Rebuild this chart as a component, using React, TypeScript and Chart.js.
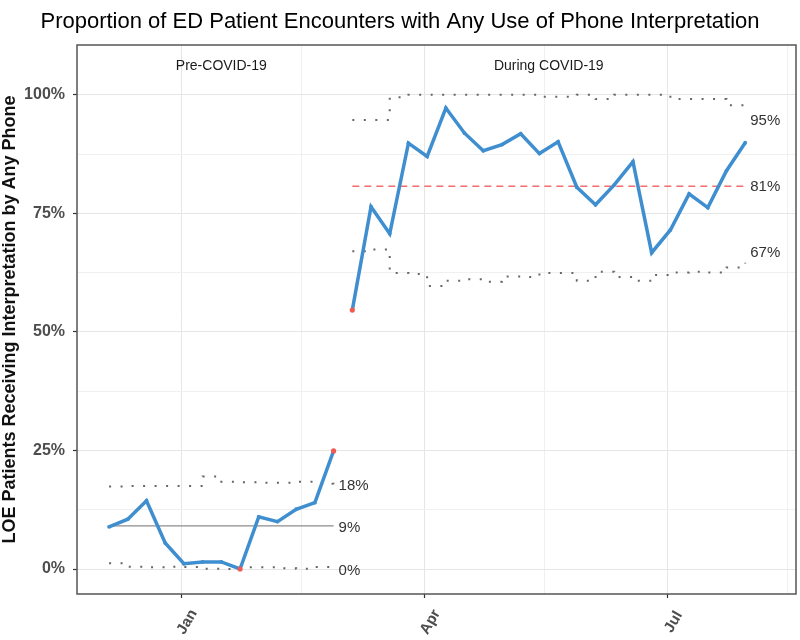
import React, { useEffect, useRef } from 'react';
import { Chart, registerables } from 'chart.js';

Chart.register(...registerables);

const chartTitle = 'Proportion of ED Patient Encounters with Any Use of Phone Interpretation';
const yAxisTitle = 'LOE Patients Receiving Interpretation by Any Phone';
const phaseNames = ['Pre-COVID-19', 'During COVID-19'];

// Pre-COVID phase (weekly)
const preDates = [
  '2019-12-05', '2019-12-12', '2019-12-19', '2019-12-26', '2020-01-02', '2020-01-09', '2020-01-16',
  '2020-01-23', '2020-01-30', '2020-02-06', '2020-02-13', '2020-02-20', '2020-02-27',
];
const preValues = [8.9, 10.5, 14.4, 5.5, 1.1, 1.5, 1.5, 0, 11.0, 10.0, 12.6, 14.0, 24.9];
const preUCL = [17.4, 17.5, 17.5, 17.5, 17.5, 19.5, 18.4, 18.3, 18.2, 18.2, 18.4, 18.0, 17.9];
const preLCL = [1.2, 0.5, 0.35, 0.5, 0.4, 0.05, 0, 0.35, 0.35, 0.15, 0.05, 0.4, 0.6];
const preCenter = 9.1;
const preSignals = [7, 12];
const preLimitLabels = [18, 9, 0];

// During COVID phase (weekly)
const duringDates = [
  '2020-03-05', '2020-03-12', '2020-03-19', '2020-03-26', '2020-04-02', '2020-04-09', '2020-04-16',
  '2020-04-23', '2020-04-30', '2020-05-07', '2020-05-14', '2020-05-21', '2020-05-28', '2020-06-04',
  '2020-06-11', '2020-06-18', '2020-06-25', '2020-07-02', '2020-07-09', '2020-07-16', '2020-07-23',
  '2020-07-30',
];
const duringValues = [
  54.6, 76.4, 70.7, 89.8, 87.0, 97.2, 91.9, 88.2, 89.5, 91.8, 87.6, 90.1, 80.5, 76.8, 81.0, 85.9,
  66.7, 71.5, 79.1, 76.2, 84.0, 89.9,
];
const duringUCL = [
  94.7, 94.7, 99.5, 100, 100, 100, 100, 100, 100, 100, 99.6, 99.6, 100, 99.1, 100, 100, 100, 99.1,
  99.1, 99.1, 97.8, 97.2,
];
const duringLCL = [
  67.0, 67.4, 62.4, 62.2, 59.7, 60.8, 61.1, 60.6, 61.7, 61.6, 62.4, 62.4, 60.8, 62.7, 61.6, 60.8,
  62.0, 62.5, 62.7, 62.5, 63.6, 64.6,
];
const duringCenter = 80.7;
const duringSignals = [0];
const duringLimitLabels = [95, 81, 67];

const yTickValues = [0, 25, 50, 75, 100];
const yTickLabels = ['0%', '25%', '50%', '75%', '100%'];
const yMinorValues = [12.5, 37.5, 62.5, 87.5];
const xTickDates = ['2020-01-01', '2020-04-01', '2020-07-01'];
const xTickLabels = ['Jan', 'Apr', 'Jul'];
const xMinorDates = ['2020-02-15', '2020-05-16', '2020-08-15'];

const FONT = "'Liberation Sans', Arial, Helvetica, sans-serif";
const BLUE = '#3f8fd0';
const RED = '#f05a52';

const toDay = (s: string) => {
  const [y, m, d] = s.split('-').map(Number);
  return (Date.UTC(y, m - 1, d) - Date.UTC(2020, 0, 1)) / 86400000;
};

export default function App() {
  const ref = useRef<HTMLCanvasElement>(null);

  useEffect(() => {
    const preX = preDates.map(toDay);
    const durX = duringDates.map(toDay);
    const pts = (xs: number[], ys: number[]) => xs.map((x, i) => ({ x, y: ys[i] }));
    const majorX = xTickDates.map(toDay);
    const minorX = xMinorDates.map(toDay);

    const lineDs = (xs: number[], ys: number[], signals: number[]) => ({
      data: pts(xs, ys),
      borderColor: BLUE,
      borderWidth: 3.5,
      pointRadius: ys.map((_, i) => (signals.includes(i) ? 2.6 : 1.9)),
      pointBackgroundColor: ys.map((_, i) => (signals.includes(i) ? RED : BLUE)),
      pointBorderWidth: 0,
      tension: 0,
      order: 0,
    });
    const limitDs = (xs: number[], ys: number[]) => ({
      data: pts(xs, ys),
      borderColor: '#666666',
      borderWidth: 2,
      borderDash: [2, 9.5],
      pointRadius: 0,
      stepped: true,
      order: 2,
    });

    const decor = {
      id: 'decor',
      afterDraw(chart: any) {
        const { ctx, chartArea: a, scales } = chart;
        const xs = scales.x;
        const ys = scales.y;
        ctx.save();
        // panel border
        ctx.strokeStyle = '#555555';
        ctx.lineWidth = 1.5;
        ctx.strokeRect(a.left, a.top, a.right - a.left, a.bottom - a.top);

        // title
        ctx.fillStyle = '#000000';
        ctx.font = `22px ${FONT}`;
        ctx.textAlign = 'center';
        ctx.textBaseline = 'alphabetic';
        ctx.fillText(chartTitle, 400, 28);

        // y axis title
        ctx.save();
        ctx.translate(15, (a.top + a.bottom) / 2);
        ctx.rotate(-Math.PI / 2);
        ctx.font = `bold 18px ${FONT}`;
        ctx.textAlign = 'center';
        ctx.textBaseline = 'alphabetic';
        ctx.fillStyle = '#111111';
        ctx.fillText(yAxisTitle, 0, 0);
        ctx.restore();

        // x tick labels (rotated)
        ctx.font = `bold 15px ${FONT}`;
        ctx.fillStyle = '#4d4d4d';
        xTickDates.forEach((d, i) => {
          const px = xs.getPixelForValue(toDay(d));
          ctx.save();
          ctx.translate(px + 6, a.bottom + 28);
          ctx.rotate(-Math.PI / 3);
          ctx.textAlign = 'center';
          ctx.textBaseline = 'middle';
          ctx.fillText(xTickLabels[i], 0, 0);
          ctx.restore();
        });

        // phase labels
        ctx.font = `14px ${FONT}`;
        ctx.fillStyle = '#1a1a1a';
        ctx.textAlign = 'center';
        ctx.textBaseline = 'alphabetic';
        const phases = [preX, durX];
        phases.forEach((xsArr, i) => {
          const c = (xs.getPixelForValue(xsArr[0]) + xs.getPixelForValue(xsArr[xsArr.length - 1])) / 2;
          ctx.fillText(phaseNames[i], c, a.top + 25);
        });

        // limit labels
        ctx.font = `15px ${FONT}`;
        ctx.fillStyle = '#333333';
        ctx.textAlign = 'left';
        ctx.textBaseline = 'middle';
        const lab = (xsArr: number[], vals: number[]) => {
          const px = xs.getPixelForValue(xsArr[xsArr.length - 1]) + 5;
          vals.forEach((v) => ctx.fillText(`${v}%`, px, ys.getPixelForValue(v) + 2));
        };
        lab(preX, preLimitLabels);
        lab(durX, duringLimitLabels);
        ctx.restore();
      },
    };

    const chart = new Chart(ref.current as HTMLCanvasElement, {
      type: 'line',
      data: {
        datasets: [
          lineDs(preX, preValues, preSignals) as any,
          lineDs(durX, duringValues, duringSignals) as any,
          {
            data: [{ x: preX[0], y: preCenter }, { x: preX[preX.length - 1], y: preCenter }],
            borderColor: '#8c8c8c',
            borderWidth: 1.4,
            pointRadius: 0,
            order: 1,
          },
          {
            data: [{ x: durX[0], y: duringCenter }, { x: durX[durX.length - 1], y: duringCenter }],
            borderColor: '#f26d6d',
            borderWidth: 1.4,
            borderDash: [7, 5],
            pointRadius: 0,
            order: 1,
          },
          limitDs(preX, preUCL) as any,
          limitDs(preX, preLCL) as any,
          limitDs(durX, duringUCL) as any,
          limitDs(durX, duringLCL) as any,
        ],
      },
      options: {
        animation: false,
        responsive: false,
        devicePixelRatio: 1,
        layout: { padding: { top: 45, right: 3, left: 0, bottom: 0 } },
        plugins: { legend: { display: false }, tooltip: { enabled: false }, title: { display: false } },
        scales: {
          x: {
            type: 'linear',
            min: -39,
            max: 230,
            afterFit: (s: any) => { s.height = 46; },
            afterBuildTicks: (s: any) => {
              s.ticks = [...majorX, ...minorX].sort((p, q) => p - q).map((v) => ({ value: v }));
            },
            ticks: { display: false },
            grid: {
              color: (c: any) => (majorX.includes(c.tick?.value) ? '#e6e6e6' : '#f0f0f0'),
              lineWidth: 1,
              drawTicks: true,
              tickLength: 4,
              tickWidth: 1.2,
              tickColor: (c: any) => (majorX.includes(c.tick?.value) ? '#333333' : 'rgba(0,0,0,0)'),
            },
            border: { display: false },
          },
          y: {
            type: 'linear',
            min: -5.27,
            max: 110.5,
            afterFit: (s: any) => { s.width = 77; },
            afterBuildTicks: (s: any) => {
              s.ticks = [...yTickValues, ...yMinorValues].sort((p, q) => p - q).map((v) => ({ value: v }));
            },
            ticks: {
              autoSkip: false,
              padding: 8,
              color: '#4d4d4d',
              font: { family: FONT, size: 16, weight: 'bold' },
              callback: (v: any) => {
                const i = yTickValues.indexOf(Number(v));
                return i >= 0 ? yTickLabels[i] : '';
              },
            },
            grid: {
              color: (c: any) => (yTickValues.includes(c.tick?.value) ? '#e6e6e6' : '#f0f0f0'),
              lineWidth: 1,
              drawTicks: true,
              tickLength: 4,
              tickWidth: 1.2,
              tickColor: (c: any) => (yTickValues.includes(c.tick?.value) ? '#333333' : 'rgba(0,0,0,0)'),
            },
            border: { display: false },
          },
        },
      },
      plugins: [decor],
    });
    return () => chart.destroy();
  }, []);

  return (
    <div style={{ position: 'fixed', left: 0, top: 0, width: 800, height: 640, background: '#ffffff' }}>
      <canvas ref={ref} width={800} height={640} />
    </div>
  );
}
